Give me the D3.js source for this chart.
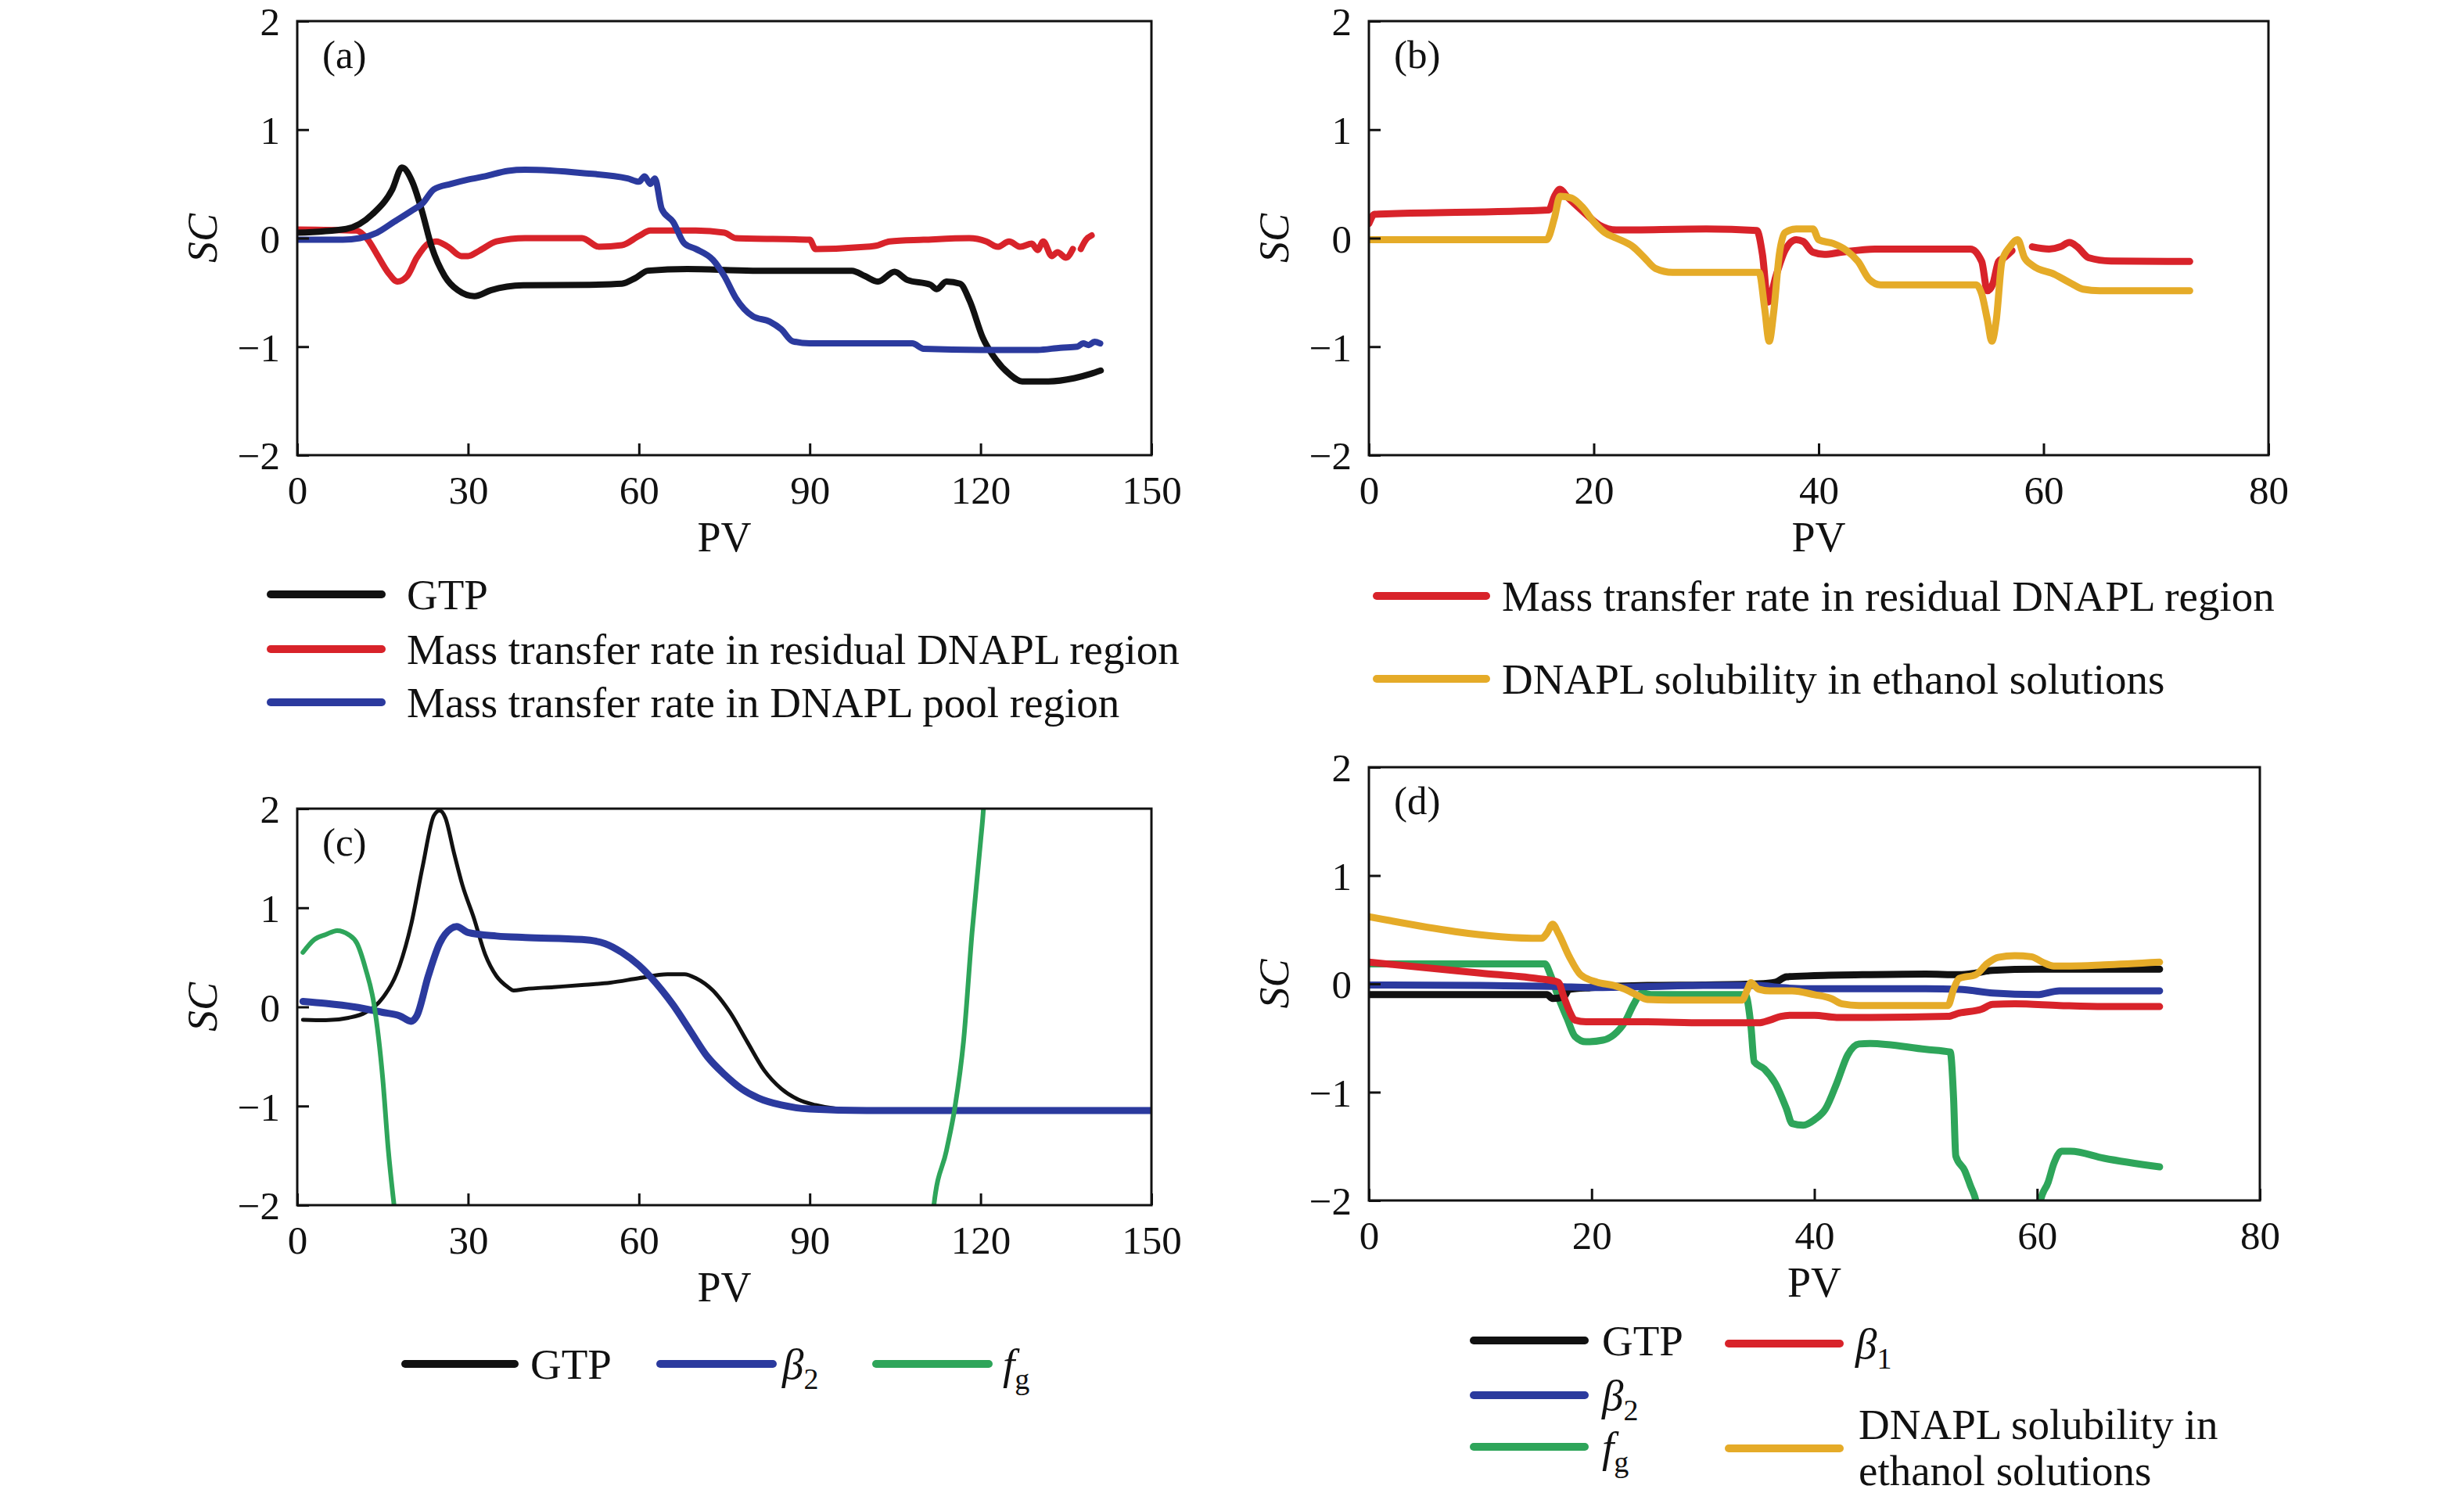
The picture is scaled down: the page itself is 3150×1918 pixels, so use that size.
<!DOCTYPE html>
<html>
<head>
<meta charset="utf-8">
<script src="https://cdn.jsdelivr.net/npm/d3@7"></script>
<style>
  body { margin: 0; background: #fff; }
  svg { display: block; }
</style>
</head>
<body>
<svg id="chart" width="3150" height="1918"></svg>
<script>
// values as [PV, SC]; null = gap in the curve
const aGTP = [[0,0.05],[8.6,0.085],[13.2,0.22],[16.7,0.45],[18.4,0.65],[20.2,0.52],[21.9,0.25],[23.6,-0.08],[25.9,-0.35],[28.2,-0.48],[31.1,-0.535],[34,-0.48],[39.7,-0.435],[51.3,-0.43],[57,-0.42],[59.3,-0.37],[61.6,-0.3],[68.5,-0.285],[80,-0.3],[97.4,-0.3],[99.7,-0.35],[102,-0.4],[104.9,-0.31],[107.1,-0.385],[111.2,-0.43],[112.3,-0.47],[114,-0.4],[116.4,-0.42],[118.1,-0.58],[120.4,-0.92],[122.7,-1.12],[125,-1.25],[127.3,-1.32],[131.9,-1.32],[136.5,-1.29],[139.4,-1.25],[141.1,-1.22]];
const aResidual = [[0,0.08],[10.4,0.07],[12.4,-0.015],[14,-0.15],[16,-0.32],[17.6,-0.4],[19.3,-0.35],[21,-0.18],[23,-0.05],[24.4,-0.03],[26.5,-0.08],[28.8,-0.165],[30,-0.165],[32,-0.115],[35,-0.03],[40,0],[50,0],[53,-0.08],[57,-0.065],[60,0.02],[62,0.07],[70,0.07],[75,0.05],[77,0],[90,-0.015],[91,-0.1],[100,-0.08],[102,-0.065],[104,-0.03],[110,-0.015],[118,0],[121,-0.03],[123,-0.08],[125,-0.03],[127,-0.08],[129,-0.05],[130,-0.11],[131,-0.03],[132.5,-0.165],[133.5,-0.13],[135,-0.18],[136.2,-0.1],[136.8,null],[137.6,-0.1],[138.5,-0.015],[139.5,0.025]];
const aPool = [[0,-0.015],[8,-0.015],[11,0],[14,0.05],[17,0.15],[20,0.25],[22,0.32],[24,0.45],[27,0.5],[30,0.54],[33,0.57],[37,0.62],[40,0.63],[50,0.6],[58,0.55],[60,0.52],[61,0.57],[62,0.5],[62.8,0.55],[64,0.27],[66,0.15],[68,-0.05],[70,-0.1],[73,-0.2],[75,-0.35],[77,-0.55],[80,-0.72],[83,-0.77],[85,-0.84],[87,-0.95],[90,-0.97],[108,-0.97],[110,-1.02],[120,-1.03],[130,-1.03],[134,-1.01],[137,-1.0],[138,-0.97],[139,-0.985],[140,-0.955],[141,-0.97]];

const bResidual = [[0,0.135],[0.5,0.22],[2,0.225],[16,0.26],[16.5,0.385],[17,0.45],[17.6,0.385],[19,0.25],[20.5,0.12],[22,0.075],[30,0.085],[34.5,0.07],[35,-0.15],[35.5,-0.59],[36.2,-0.35],[37,-0.115],[38,-0.015],[38.6,-0.03],[39.5,-0.13],[40.5,-0.15],[42,-0.13],[45,-0.1],[53.5,-0.1],[54.5,-0.215],[55,-0.485],[55.5,-0.42],[56,-0.215],[56.5,-0.18],[57.2,-0.115],[58,null],[59,-0.08],[60.5,-0.1],[61.5,-0.08],[62.3,-0.04],[63,-0.08],[64,-0.18],[66,-0.21],[73,-0.215]];
const bSolubility = [[0,-0.015],[15.8,-0.015],[16.5,0.185],[17,0.385],[18,0.37],[19,0.285],[20,0.15],[21,0.05],[22,0],[23.5,-0.08],[24.5,-0.18],[25.5,-0.28],[27,-0.315],[34.7,-0.315],[35.2,-0.65],[35.6,-0.95],[36,-0.68],[36.5,-0.15],[37,0.05],[38,0.085],[39.5,0.085],[40,-0.015],[41.3,-0.05],[42.5,-0.115],[43.5,-0.215],[44.5,-0.38],[45.5,-0.43],[54,-0.43],[54.5,-0.515],[55,-0.75],[55.4,-0.95],[55.8,-0.75],[56.3,-0.215],[57,-0.08],[57.7,-0.015],[58.3,-0.18],[59,-0.25],[61,-0.335],[62.5,-0.42],[63.5,-0.47],[65,-0.485],[73,-0.485]];

const cGTP = [[1,-0.13],[5,-0.135],[9,-0.11],[12,-0.055],[15,0.09],[18,0.42],[20,0.83],[22,1.41],[24,1.93],[25,1.98],[26,1.91],[27.5,1.56],[29,1.23],[31,0.9],[33,0.53],[35,0.31],[37,0.2],[38,0.165],[40,0.18],[45,0.2],[50,0.22],[55,0.245],[60,0.29],[65,0.33],[68,0.33],[70,0.29],[73,0.165],[76,-0.055],[79,-0.35],[82,-0.64],[85,-0.825],[88,-0.935],[91,-0.99],[95,-1.03],[100,-1.045],[150,-1.045]];
const cBeta2 = [[1,0.055],[5,0.035],[10,0],[15,-0.055],[18,-0.09],[20,-0.145],[21,-0.09],[23,0.31],[25,0.64],[27,0.79],[28,0.81],[30,0.75],[35,0.715],[40,0.7],[50,0.68],[54,0.64],[57,0.55],[60,0.42],[63,0.24],[66,0.02],[69,-0.24],[72,-0.5],[75,-0.68],[78,-0.825],[81,-0.92],[85,-0.99],[90,-1.03],[100,-1.045],[150,-1.045]];
const cFg = [[1,0.55],[3,0.68],[5,0.73],[7,0.77],[9,0.73],[10.5,0.64],[12,0.385],[13.5,0.02],[15,-0.715],[16,-1.45],[17,-2.0],[17.4,-2.2],[60,null],[111.5,-2.2],[111.8,-2.0],[114,-1.45],[115.5,-1.01],[117,-0.35],[118.5,0.75],[120,1.67],[120.5,2.0],[120.7,2.2]];

const dGTP = [[0,-0.1],[16,-0.1],[16.5,-0.135],[17.5,-0.12],[18,-0.05],[20,-0.035],[25,-0.015],[30,-0.01],[35,0],[36.5,0.015],[37.5,0.065],[40,0.075],[45,0.085],[50,0.09],[53,0.085],[54.5,0.1],[56,0.125],[60,0.135],[65,0.135],[71,0.135]];
const dBeta1 = [[0,0.2],[5,0.15],[10,0.1],[15,0.05],[17,0.015],[17.5,-0.12],[18,-0.25],[18.5,-0.335],[19.5,-0.35],[25,-0.35],[30,-0.36],[35,-0.36],[36,-0.335],[37,-0.3],[38,-0.29],[40,-0.29],[42,-0.31],[45,-0.31],[52,-0.3],[53,-0.27],[55,-0.235],[56,-0.19],[58,-0.185],[62,-0.2],[66,-0.21],[71,-0.21]];
const dBeta2 = [[0,-0.01],[10,-0.015],[17,-0.025],[20,-0.035],[25,-0.025],[30,-0.015],[35,-0.015],[37,-0.035],[40,-0.045],[50,-0.045],[53,-0.05],[56,-0.085],[60,-0.1],[62,-0.065],[66,-0.065],[71,-0.065]];
const dFg = [[0,0.185],[15.8,0.185],[16.3,0.085],[17,-0.12],[17.8,-0.32],[18.5,-0.485],[19.5,-0.535],[21,-0.52],[22,-0.47],[23,-0.35],[23.8,-0.185],[24.5,-0.085],[25.5,-0.1],[30,-0.1],[33.8,-0.1],[34.3,-0.385],[34.6,-0.72],[35.5,-0.785],[36.5,-0.92],[37.5,-1.155],[38,-1.29],[39,-1.305],[40,-1.255],[41,-1.155],[42,-0.92],[43,-0.655],[44,-0.555],[45,-0.55],[50,-0.605],[52.2,-0.63],[52.5,-1.055],[52.7,-1.59],[53.5,-1.725],[54,-1.86],[54.5,-2.0],[54.7,-2.1],[57,null],[60.1,-2.1],[60.3,-2.0],[61,-1.83],[61.5,-1.66],[62.2,-1.545],[63,-1.545],[66,-1.61],[71,-1.69]];
const dSolubility = [[0,0.62],[15.5,0.42],[16,0.47],[16.5,0.55],[17,0.47],[18,0.25],[19,0.085],[20.5,0.015],[22,-0.015],[23,-0.05],[24,-0.1],[25,-0.145],[27,-0.15],[33.5,-0.15],[34,-0.05],[34.3,0.01],[35,-0.05],[36,-0.065],[38,-0.065],[40,-0.1],[41.5,-0.135],[42.5,-0.185],[44,-0.2],[52,-0.2],[52.5,-0.05],[53,0.05],[54.5,0.085],[55.5,0.185],[56.5,0.245],[58,0.26],[59.5,0.25],[60.5,0.2],[61.5,0.165],[63,0.165],[66,0.175],[71,0.2]];

const yTicks = [-2, -1, 0, 1, 2];
const xTicks150 = [0, 30, 60, 90, 120, 150];
const xTicks80 = [0, 20, 40, 60, 80];

const C = { black: '#111111', red: '#d8232a', blue: '#2b3a9e', green: '#2ea55a', yellow: '#e5ab28' };
const FONT = "'Liberation Serif','Times New Roman',serif";
const LEG_SIZE = 55;

const svg = d3.select('#chart');
svg.append('rect').attr('width', 3150).attr('height', 1918).attr('fill', '#fff');

function drawPanel(p) {
  const x = d3.scaleLinear().domain([0, p.xMax]).range([p.left, p.right]);
  const y = d3.scaleLinear().domain([-2, 2]).range([p.bottom, p.top]);
  const g = svg.append('g');

  g.append('clipPath').attr('id', 'clip-' + p.id)
    .append('rect')
    .attr('x', p.left).attr('y', p.top)
    .attr('width', p.right - p.left).attr('height', p.bottom - p.top);

  const line = d3.line()
    .defined(d => d[1] !== null)
    .x(d => x(d[0]))
    .y(d => y(d[1]))
    .curve(d3.curveMonotoneX);

  g.append('g')
    .attr('clip-path', 'url(#clip-' + p.id + ')')
    .selectAll('path')
    .data(p.series)
    .enter()
    .append('path')
    .attr('fill', 'none')
    .attr('stroke', d => d.color)
    .attr('stroke-width', d => d.width)
    .attr('stroke-linejoin', 'round')
    .attr('stroke-linecap', 'round')
    .attr('d', d => line(d.data));

  // inward ticks
  const yAxis = g.append('g')
    .attr('transform', `translate(${p.left},0)`)
    .call(d3.axisLeft(y).tickValues(yTicks).tickSizeInner(-15).tickSizeOuter(0).tickPadding(22)
      .tickFormat(d => d < 0 ? '\u2212' + Math.abs(d) : d));
  const xAxis = g.append('g')
    .attr('transform', `translate(0,${p.bottom})`)
    .call(d3.axisBottom(x).tickValues(p.xTicks).tickSizeInner(-15).tickSizeOuter(0));
  [yAxis, xAxis].forEach(a => {
    a.select('.domain').remove();
    a.selectAll('line').attr('stroke', '#111').attr('stroke-width', 3);
    a.selectAll('text').attr('font-family', FONT).attr('font-size', 51).attr('fill', '#111');
  });
  xAxis.selectAll('text').attr('y', 44).attr('dy', '0.35em');
  yAxis.selectAll('text').attr('dy', '0.35em');

  g.append('rect')
    .attr('x', p.left).attr('y', p.top)
    .attr('width', p.right - p.left).attr('height', p.bottom - p.top)
    .attr('fill', 'none').attr('stroke', '#111').attr('stroke-width', 3);

  g.append('text')
    .attr('x', p.left + 32).attr('y', p.top + 60)
    .attr('font-family', FONT).attr('font-size', 51).attr('fill', '#111')
    .text(p.label);

  g.append('text')
    .attr('x', (p.left + p.right) / 2).attr('y', p.bottom + 104)
    .attr('dy', '0.35em').attr('text-anchor', 'middle')
    .attr('font-family', FONT).attr('font-size', 54).attr('fill', '#111')
    .text('PV');

  g.append('text')
    .attr('transform', `translate(${p.left - 122},${(p.top + p.bottom) / 2}) rotate(-90)`)
    .attr('dy', '0.35em').attr('text-anchor', 'middle')
    .attr('font-family', FONT).attr('font-size', 54).attr('font-style', 'italic').attr('fill', '#111')
    .text('SC');
}

drawPanel({ id: 'a', label: '(a)', left: 380, right: 1472, top: 27, bottom: 582, xMax: 150, xTicks: xTicks150,
  series: [
    { data: aResidual, color: C.red, width: 8 },
    { data: aGTP, color: C.black, width: 8 },
    { data: aPool, color: C.blue, width: 8 }
  ] });
drawPanel({ id: 'b', label: '(b)', left: 1750, right: 2900, top: 27, bottom: 582, xMax: 80, xTicks: xTicks80,
  series: [
    { data: bResidual, color: C.red, width: 9 },
    { data: bSolubility, color: C.yellow, width: 9 }
  ] });
drawPanel({ id: 'c', label: '(c)', left: 380, right: 1472, top: 1034, bottom: 1541, xMax: 150, xTicks: xTicks150,
  series: [
    { data: cGTP, color: C.black, width: 5 },
    { data: cBeta2, color: C.blue, width: 9 },
    { data: cFg, color: C.green, width: 6 }
  ] });
drawPanel({ id: 'd', label: '(d)', left: 1750, right: 2889, top: 981, bottom: 1535, xMax: 80, xTicks: xTicks80,
  series: [
    { data: dFg, color: C.green, width: 9 },
    { data: dGTP, color: C.black, width: 9 },
    { data: dBeta2, color: C.blue, width: 9 },
    { data: dBeta1, color: C.red, width: 9 },
    { data: dSolubility, color: C.yellow, width: 9 }
  ] });

// legends
function legendItem(x1, x2, y, color, tx, parts) {
  const g = svg.append('g');
  g.append('line').attr('x1', x1).attr('x2', x2).attr('y1', y).attr('y2', y)
    .attr('stroke', color).attr('stroke-width', 10).attr('stroke-linecap', 'round');
  const t = g.append('text').attr('x', tx).attr('y', y).attr('dy', '0.35em')
    .attr('font-family', FONT).attr('font-size', LEG_SIZE).attr('fill', '#111');
  parts.forEach(pt => {
    const s = t.append('tspan').text(pt.t);
    if (pt.italic) s.attr('font-style', 'italic');
    if (pt.sub) s.attr('font-size', 38).attr('dy', 13);
  });
  return g;
}
const GTP = [{ t: 'GTP' }];
const B1 = [{ t: '\u03b2', italic: true }, { t: '1', sub: true }];
const B2 = [{ t: '\u03b2', italic: true }, { t: '2', sub: true }];
const FG = [{ t: 'f', italic: true }, { t: 'g', sub: true }];

legendItem(346, 488, 760, C.black, 520, GTP);
legendItem(346, 488, 830, C.red, 520, [{ t: 'Mass transfer rate in residual DNAPL region' }]);
legendItem(346, 488, 898, C.blue, 520, [{ t: 'Mass transfer rate in DNAPL pool region' }]);

legendItem(1760, 1900, 762, C.red, 1920, [{ t: 'Mass transfer rate in residual DNAPL region' }]);
legendItem(1760, 1900, 868, C.yellow, 1920, [{ t: 'DNAPL solubility in ethanol solutions' }]);

legendItem(518, 658, 1744, C.black, 678, GTP);
legendItem(844, 988, 1744, C.blue, 1000, B2);
legendItem(1120, 1264, 1744, C.green, 1282, FG);

legendItem(1884, 2026, 1714, C.black, 2048, GTP);
legendItem(1884, 2026, 1784, C.blue, 2048, B2);
legendItem(1884, 2026, 1850, C.green, 2048, FG);
legendItem(2210, 2352, 1718, C.red, 2372, B1);
const ly = legendItem(2210, 2352, 1852, C.yellow, 2376, [{ t: 'DNAPL solubility in' }]);
ly.select('text').attr('y', 1821);
svg.append('text').attr('x', 2376).attr('y', 1880).attr('dy', '0.35em')
  .attr('font-family', FONT).attr('font-size', LEG_SIZE).attr('fill', '#111')
  .text('ethanol solutions');
</script>
</body>
</html>
